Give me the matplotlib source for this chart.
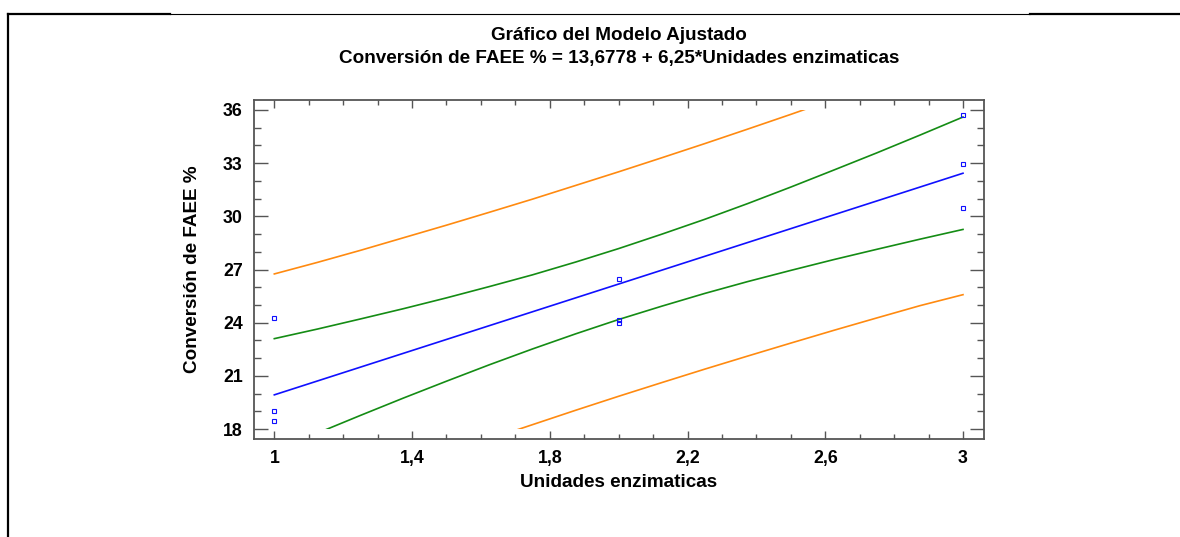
import matplotlib
matplotlib.use("Agg")
import matplotlib.pyplot as plt
from matplotlib.patches import Rectangle
from matplotlib.lines import Line2D
from matplotlib.ticker import MultipleLocator, FixedLocator

# ---- data ----
obs_x = [1, 1, 1, 2, 2, 2, 3, 3, 3]
obs_y = [24.25, 19.0, 18.45, 26.45, 24.15, 24.0, 35.7, 32.95, 30.45]

fit_x = [1, 3]
fit_y = [19.93, 32.43]

band_x = [1, 1.125, 1.25, 1.375, 1.5, 1.625, 1.75, 1.875, 2,
          2.125, 2.25, 2.375, 2.5, 2.625, 2.75, 2.875, 3]
conf_upper = [23.10, 23.64, 24.21, 24.79, 25.40, 26.04, 26.70, 27.42, 28.18,
              28.99, 29.83, 30.72, 31.65, 32.61, 33.58, 34.58, 35.60]
conf_lower = [16.76, 17.77, 18.77, 19.75, 20.70, 21.63, 22.52, 23.37, 24.18,
              24.93, 25.65, 26.32, 26.95, 27.56, 28.14, 28.71, 29.26]
pred_upper = [26.75, 27.40, 28.08, 28.79, 29.50, 30.23, 30.97, 31.74, 32.51,
              33.30, 34.10, 34.92, 35.75, 36.60, 37.45, 38.33, 39.28]
pred_lower = [13.11, 14.02, 14.90, 15.76, 16.60, 17.44, 18.25, 19.06, 19.85,
              20.62, 21.38, 22.12, 22.85, 23.57, 24.27, 24.96, 25.58]

x_ticks = [1, 1.4, 1.8, 2.2, 2.6, 3]
x_tick_labels = ["1", "1,4", "1,8", "2,2", "2,6", "3"]
y_ticks = [18, 21, 24, 27, 30, 33, 36]
y_tick_labels = ["18", "21", "24", "27", "30", "33", "36"]

title1 = "Gráfico del Modelo Ajustado"
title2 = "Conversión de FAEE % = 13,6778 + 6,25*Unidades enzimaticas"
xlabel = "Unidades enzimaticas"
ylabel = "Conversión de FAEE %"

plt.rcParams['font.family'] = ['Liberation Sans', 'DejaVu Sans']

fig = plt.figure(figsize=(11.8, 5.37), dpi=100)
ax = fig.add_axes([254/1180, 98/537, 730/1180, 339/537])

BLUE = "#1010ff"
GREEN = "#148c14"
ORANGE = "#ff8a10"

clip = Rectangle((0.9, 18), 2.3, 18, transform=ax.transData)

for ys, c in [(pred_upper, ORANGE), (pred_lower, ORANGE),
              (conf_upper, GREEN), (conf_lower, GREEN)]:
    ln, = ax.plot(band_x, ys, color=c, lw=1.2, zorder=2)
    ln.set_clip_path(clip)
ax.plot(fit_x, fit_y, color=BLUE, lw=1.2, zorder=3)
ax.plot(obs_x, obs_y, linestyle="none", marker="s", markersize=3.2,
        markerfacecolor="none", markeredgecolor=BLUE, markeredgewidth=0.8, zorder=4)

ax.set_xlim(0.941, 3.061)
ax.set_ylim(17.44, 36.56)

ax.xaxis.set_major_locator(FixedLocator(x_ticks))
ax.set_xticklabels(x_tick_labels)
ax.xaxis.set_minor_locator(MultipleLocator(0.1))
ax.yaxis.set_major_locator(FixedLocator(y_ticks))
ax.set_yticklabels(y_tick_labels)
ax.yaxis.set_minor_locator(MultipleLocator(1))

spine_c = "#555555"
for s in ax.spines.values():
    s.set_color(spine_c)
    s.set_linewidth(1.3)

ax.tick_params(axis="both", which="both", direction="in", colors=spine_c,
               top=True, right=True, width=1.0, labelcolor="black")
ax.tick_params(axis="y", which="major", length=10)
ax.tick_params(axis="y", which="minor", length=5)
ax.tick_params(axis="x", which="major", length=5.5)
ax.tick_params(axis="x", which="minor", length=3.8)
for lab in ax.get_xticklabels() + ax.get_yticklabels():
    lab.set_fontsize(12.8)
    lab.set_fontweight("bold")
ax.tick_params(axis="x", pad=8)
ax.tick_params(axis="y", pad=8)

ax.set_xlabel(xlabel, fontsize=13.6, fontweight="bold", labelpad=5)
ax.set_ylabel(ylabel, fontsize=13.6, fontweight="bold", labelpad=16)

fig.text(619/1180, 1 - 35/537, title1, ha="center", va="center",
         fontsize=13.6, fontweight="bold")
fig.text(619/1180, 1 - 58/537, title2, ha="center", va="center",
         fontsize=13.6, fontweight="bold")

# frame lines of the surrounding page
def fl(x0, x1, y0, y1, lw):
    fig.add_artist(Line2D([x0/1180, x1/1180], [1 - y0/537, 1 - y1/537],
                          transform=fig.transFigure, color="black", lw=lw))

fl(8, 170, 14, 14, 1.6)
fl(170, 1030, 14, 14, 0.8)
fl(1030, 1180, 14, 14, 1.6)
fl(8, 8, 13.5, 537, 1.6)

fig.savefig("out.png", dpi=100)
